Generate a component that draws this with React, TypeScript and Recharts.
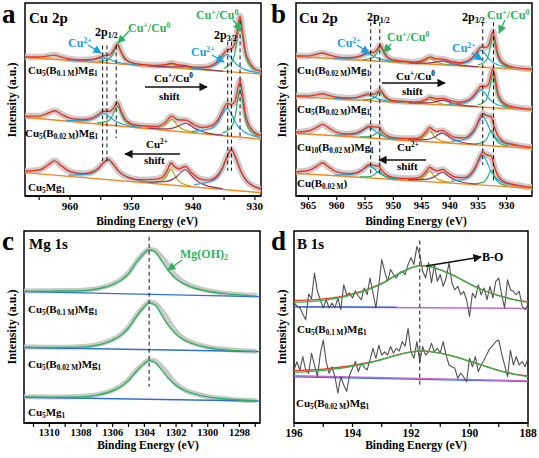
import React from "react";
import { LineChart, Line, XAxis, YAxis, ReferenceArea, ReferenceLine } from "recharts";

type Pt = [number, number]; // [binding energy (eV), intensity (a.u.)]

// ─── Panel a: Cu 2p, Cu5(B0.1M)Mg1 / Cu5(B0.02M)Mg1 / Cu5Mg1 ───
const a1Sum: Pt[] = [[967.3,72.1],[965,72.0],[963.5,72.6],[962.5,73.0],[961.5,72.1],[960,71.0],[958,70.5],[956.5,70.7],[955.5,71.5],[954.5,72.6],[953.5,73.3],[952.9,75.7],[952.3,78.8],[951.7,74.7],[951,71.0],[950,69.2],[948,68.0],[946,67.6],[944.5,68.0],[943.5,68.8],[942.5,68.0],[941.2,67.5],[940,66.7],[938.5,66.7],[937,67.7],[936,69.8],[935.2,73.2],[934.5,75.7],[933.8,76.3],[933.2,79.7],[932.8,86.9],[932.4,93.2],[932,85.3],[931.5,74.4],[931,70.2],[930.2,66.4],[929,64.6]];
const a1Base: Pt[] = [[967.3,71.9],[929,63.2]];
const a1Cu2p12: Pt[] = [[948.5,67.8],[951.5,68.8],[953,70.0],[953.75,70.9],[954.5,71.6],[955.25,71.3],[956,70.6],[957.5,70.2],[960.5,70.5]];
const a1Cu1p12: Pt[] = [[949.3,68.4],[950.8,70.1],[951.55,73.1],[951.9,76.0],[952.3,78.0],[952.7,76.2],[953.05,73.4],[953.8,70.7],[955.3,69.8]];
const a1SatA: Pt[] = [[939.5,65.7],[941.5,66.4],[942.5,67.2],[943,67.9],[943.5,68.4],[944,68.1],[944.5,67.7],[945.5,67.3],[947.5,67.5]];
const a1SatB: Pt[] = [[935.2,64.7],[938.2,65.6],[939.7,66.3],[940.45,66.8],[941.2,67.2],[941.95,67.1],[942.7,66.9],[944.2,66.9],[947.2,67.4]];
const a1Cu2p32: Pt[] = [[928.9,63.7],[931.7,65.6],[933.1,68.6],[933.8,71.4],[934.5,73.4],[935.2,71.8],[935.9,69.2],[937.3,66.8],[940.1,66.2]];
const a1Cu1p32: Pt[] = [[929.8,65.0],[931.1,69.0],[931.75,77.1],[932.08,85.1],[932.4,90.5],[932.73,85.3],[933.05,77.4],[933.7,69.6],[935,66.2]];

const a2Sum: Pt[] = [[967.3,41.4],[965,41.4],[963.5,43.0],[962.5,44.2],[961.5,42.6],[960,40.3],[958,39.6],[956.5,40.3],[955.5,42.1],[954.5,44.0],[953.5,43.9],[952.9,45.8],[952.3,48.5],[951.7,44.1],[951,39.7],[950,37.4],[948,36.3],[946,36.1],[944.5,38.2],[943.5,41.4],[942.5,39.5],[941.2,39.3],[940,37.2],[938.5,35.5],[937,36.4],[936,39.4],[935.2,44.4],[934.5,48.0],[933.8,47.4],[933.2,49.1],[932.8,55.1],[932.4,59.9],[932,52.6],[931.5,42.2],[931,37.0],[930.2,33.4],[929,31.3]];
const a2Base: Pt[] = [[967.3,40.8],[929,29.4]];
const a2Cu2p12: Pt[] = [[948.5,35.6],[951.5,37.3],[953,39.5],[953.75,41.4],[954.5,42.8],[955.25,41.9],[956,40.3],[957.5,39.1],[960.5,39.1]];
const a2Cu1p12: Pt[] = [[949.1,36.0],[950.7,37.9],[951.5,41.2],[951.9,44.4],[952.3,46.6],[952.7,44.7],[953.1,41.7],[953.9,38.8],[955.5,37.9]];
const a2SatA: Pt[] = [[939.5,32.9],[941.5,34.3],[942.5,36.4],[943,38.4],[943.5,39.7],[944,38.7],[944.5,37.0],[945.5,35.5],[947.5,35.3]];
const a2SatB: Pt[] = [[935.2,31.5],[938.2,33.1],[939.7,34.9],[940.45,36.5],[941.2,37.7],[941.95,37.0],[942.7,35.8],[944.2,34.8],[947.2,35.1]];
const a2Cu2p32: Pt[] = [[928.9,30.2],[931.7,33.1],[933.1,37.8],[933.8,42.4],[934.5,45.5],[935.2,42.8],[935.9,38.7],[937.3,34.7],[940.1,33.5]];
const a2Cu1p32: Pt[] = [[929.6,31.1],[931,35.0],[931.7,42.7],[932.05,50.3],[932.4,55.4],[932.75,50.5],[933.1,43.1],[933.8,35.8],[935.2,32.7]];

const a3Sum: Pt[] = [[967.3,12.9],[965,13.5],[963.5,16.2],[962.5,18.2],[961.5,15.9],[960,12.7],[958,11.6],[956.5,12.3],[955.5,14.1],[954.6,17.1],[953.8,19.0],[953,16.5],[952,12.5],[950.5,9.6],[948.5,8.4],[946.5,8.6],[945,9.7],[944.2,13.4],[943.6,17.1],[943,15.1],[942.3,14.1],[941.3,15.3],[940.3,12.2],[939,9.0],[937.5,8.2],[936.3,9.9],[935.3,14.4],[934.5,20.6],[933.8,24.1],[933.1,19.9],[932.3,13.1],[931.3,7.7],[930,4.8],[929,3.6]];
const a3Base: Pt[] = [[967.3,12.1],[929,1.7]];
const a3Cu2p12: Pt[] = [[947.4,7.3],[950.6,9.6],[952.2,13.1],[953,16.4],[953.8,18.7],[954.6,16.9],[955.4,14.0],[957,11.3],[960.2,10.8]];
const a3SatA: Pt[] = [[940.4,5.3],[942,6.9],[942.8,9.6],[943.2,12.1],[943.6,13.9],[944,12.3],[944.4,10.0],[945.2,7.7],[946.8,7.0]];
const a3SatB: Pt[] = [[935.3,3.9],[938.3,5.9],[939.8,8.9],[940.55,11.6],[941.3,13.6],[942.05,12.1],[942.8,9.7],[944.3,7.6],[947.3,7.2]];
const a3Cu2p32: Pt[] = [[927.8,2.6],[930.8,6.3],[932.3,13.0],[933.05,19.4],[933.8,23.8],[934.55,19.8],[935.3,13.8],[936.8,8.0],[939.8,5.9]];

// ─── Panel b: Cu 2p, Cu1 / Cu5 / Cu10 (B0.02M)Mg1 and Cu(B0.02M) ───
const b1Sum: Pt[] = [[967.2,72.6],[965,72.6],[963.5,73.5],[962.5,74.1],[961.5,73.2],[960,72.1],[958,71.6],[956.5,72.0],[955.5,73.0],[954.5,74.4],[953.5,74.4],[952.9,75.9],[952.3,78.1],[951.7,74.9],[951,71.9],[950,70.5],[948,69.8],[946,69.4],[944.5,70.6],[943.5,72.1],[942.5,71.1],[941.2,70.9],[940,69.9],[938.5,69.1],[937,69.9],[936,71.9],[935.2,74.9],[934.5,77.2],[933.8,76.9],[933.2,77.8],[932.8,81.7],[932.4,85.2],[932,80.2],[931.5,73.3],[931,70.3],[930.2,68.2],[929,66.9],[927,66.1],[925.5,65.7]];
const b1Base: Pt[] = [[967.2,72.3],[925.5,65.3]];
const b1Cu2p12: Pt[] = [[948.5,69.4],[951.5,70.4],[953,71.7],[953.75,72.8],[954.5,73.6],[955.25,73.0],[956,72.2],[957.5,71.4],[960.5,71.4]];
const b1Cu1p12: Pt[] = [[949.3,69.7],[950.8,71.0],[951.55,73.3],[951.9,75.5],[952.3,77.0],[952.7,75.6],[953.05,73.5],[953.8,71.5],[955.3,70.7]];
const b1SatA: Pt[] = [[939.5,67.8],[941.5,68.6],[942.5,69.6],[943,70.6],[943.5,71.3],[944,70.8],[944.5,70.0],[945.5,69.2],[947.5,69.2]];
const b1SatB: Pt[] = [[935.2,67.0],[938.2,67.8],[939.7,68.7],[940.45,69.5],[941.2,70.0],[941.95,69.7],[942.7,69.2],[944.2,68.8],[947.2,69.0]];
const b1Cu2p32: Pt[] = [[928.9,66.4],[931.7,68.1],[933.1,71.0],[933.8,73.7],[934.5,75.6],[935.2,74.0],[935.9,71.4],[937.3,69.0],[940.1,68.3]];
const b1Cu1p32: Pt[] = [[929.8,67.0],[931.1,69.5],[931.75,74.4],[932.08,79.3],[932.4,82.5],[932.73,79.4],[933.05,74.6],[933.7,69.9],[935,67.9]];

const b2Sum: Pt[] = [[967.2,51.8],[965,51.8],[963.5,52.5],[962.5,53.0],[961.5,52.2],[960,51.2],[958,50.8],[956.5,51.1],[955.5,52.0],[954.5,52.9],[953.5,52.7],[952.9,53.6],[952.3,55.0],[951.7,52.6],[951,50.5],[950,49.4],[948,49.0],[946,48.7],[944.5,49.7],[943.5,51.2],[942.5,50.4],[941.2,50.6],[940,49.5],[938.5,48.6],[937,49.4],[936,51.4],[935.2,54.5],[934.5,56.9],[933.8,56.7],[933.2,57.8],[932.8,62.2],[932.4,66.0],[932,60.7],[931.5,53.2],[931,49.9],[930.2,47.6],[929,46.3],[927,45.3],[925.5,45.0]];
const b2Base: Pt[] = [[967.2,51.5],[925.5,44.6]];
const b2Cu2p12: Pt[] = [[948.5,48.6],[951.5,49.5],[953,50.7],[953.75,51.7],[954.5,52.4],[955.25,51.9],[956,51.2],[957.5,50.5],[960.5,50.6]];
const b2Cu1p12: Pt[] = [[949.3,48.8],[950.8,49.8],[951.55,51.4],[951.9,52.9],[952.3,54.0],[952.7,53.1],[953.05,51.6],[953.8,50.3],[955.3,49.8]];
const b2SatA: Pt[] = [[939.5,47.1],[941.5,47.8],[942.5,48.7],[943,49.6],[943.5,50.2],[944,49.8],[944.5,49.1],[945.5,48.5],[947.5,48.4]];
const b2SatB: Pt[] = [[935.2,46.4],[938.2,47.2],[939.7,48.2],[940.45,49.1],[941.2,49.7],[941.95,49.3],[942.7,48.7],[944.2,48.2],[947.2,48.3]];
const b2Cu2p32: Pt[] = [[928.9,45.7],[931.7,47.4],[933.1,50.4],[933.8,53.2],[934.5,55.1],[935.2,53.4],[935.9,50.8],[937.3,48.4],[940.1,47.6]];
const b2Cu1p32: Pt[] = [[929.8,46.3],[931.1,49.0],[931.75,54.3],[932.08,59.7],[932.4,63.2],[932.73,59.8],[933.05,54.6],[933.7,49.4],[935,47.2]];

const b3Sum: Pt[] = [[967.2,33.1],[965,33.7],[963.5,35.6],[962.5,37.1],[961.5,35.4],[960,33.0],[958,32.1],[956.5,32.7],[955.5,34.1],[954.3,36.2],[953.4,35.8],[952.6,35.7],[951.8,32.8],[950.8,30.9],[949.5,30.1],[947.5,29.8],[946,29.8],[945,30.9],[944.2,33.4],[943.6,35.5],[943,34.3],[942.3,33.5],[941.3,34.0],[940.3,32.1],[939,30.3],[937.5,30.1],[936.3,32.1],[935.4,36.0],[934.7,40.6],[934.2,42.8],[933.6,41.8],[933.1,41.4],[932.7,41.0],[932.2,36.1],[931.5,31.0],[930.5,28.2],[929,26.8],[927,25.7],[925.5,25.2]];
const b3Base: Pt[] = [[967.2,32.5],[925.5,24.7]];
const b3Cu2p12: Pt[] = [[948.3,29.3],[951.3,30.6],[952.8,32.6],[953.55,34.4],[954.3,35.6],[955.05,34.6],[955.8,33.1],[957.3,31.8],[960.3,31.6]];
const b3Cu1p12: Pt[] = [[949.4,29.4],[951,30.2],[951.8,31.4],[952.2,32.5],[952.6,33.3],[953,32.7],[953.4,31.7],[954.2,30.8],[955.8,30.6]];
const b3SatA: Pt[] = [[940,27.8],[941.8,28.9],[942.7,30.7],[943.15,32.4],[943.6,33.6],[944.05,32.6],[944.5,31.0],[945.4,29.5],[947.2,29.1]];
const b3SatB: Pt[] = [[935.3,26.8],[938.3,28.1],[939.8,29.9],[940.55,31.5],[941.3,32.6],[942.05,31.8],[942.8,30.4],[944.3,29.2],[947.3,29.1]];
const b3Cu2p32: Pt[] = [[928.6,26.2],[931.4,28.8],[932.8,33.5],[933.5,38.2],[934.2,41.3],[934.9,38.4],[935.6,34.1],[937,29.8],[939.8,28.3]];
const b3Cu1p32: Pt[] = [[929.9,26.0],[931.3,27.3],[932,29.9],[932.35,32.3],[932.7,34.0],[933.05,32.5],[933.4,30.1],[934.1,27.9],[935.5,27.0]];

const b4Sum: Pt[] = [[967.2,12.5],[965,13.2],[963.5,15.5],[962.5,17.2],[961.5,15.2],[960,12.5],[958,11.6],[956.5,12.1],[955.5,13.5],[954.2,16.3],[953.4,15.8],[952.6,15.5],[951.8,12.4],[950.8,10.3],[949.5,9.4],[947.5,9.1],[946,9.2],[945,10.3],[944.2,12.8],[943.6,14.9],[943,13.8],[942.3,13.1],[941.3,13.7],[940.3,11.8],[939,9.7],[937.5,9.5],[936.3,11.5],[935.4,15.6],[934.7,20.4],[934.2,22.6],[933.6,21.5],[933.1,21.0],[932.7,20.7],[932.2,15.7],[931.5,10.4],[930.5,7.6],[929,6.1],[927,5.0],[925.5,4.5]];
const b4Base: Pt[] = [[967.2,11.8],[925.5,4.0]];
const b4Cu2p12: Pt[] = [[948.2,8.7],[951.2,10.1],[952.7,12.2],[953.45,14.2],[954.2,15.6],[954.95,14.5],[955.7,12.8],[957.2,11.2],[960.2,10.9]];
const b4Cu1p12: Pt[] = [[949.4,8.7],[951,9.5],[951.8,10.7],[952.2,11.8],[952.6,12.6],[953,12.0],[953.4,11.0],[954.2,10.1],[955.8,9.9]];
const b4SatA: Pt[] = [[940,7.1],[941.8,8.2],[942.7,10.0],[943.15,11.7],[943.6,12.9],[944.05,11.9],[944.5,10.3],[945.4,8.8],[947.2,8.4]];
const b4SatB: Pt[] = [[935.3,6.2],[938.3,7.5],[939.8,9.3],[940.55,11.0],[941.3,12.3],[942.05,11.3],[942.8,9.9],[944.3,8.6],[947.3,8.4]];
const b4Cu2p32: Pt[] = [[928.6,5.5],[931.4,8.2],[932.8,13.1],[933.5,17.9],[934.2,21.1],[934.9,18.1],[935.6,13.6],[937,9.2],[939.8,7.6]];
const b4Cu1p32: Pt[] = [[929.9,5.3],[931.3,6.7],[932,9.2],[932.35,11.7],[932.7,13.4],[933.05,11.8],[933.4,9.5],[934.1,7.2],[935.5,6.4]];

// ─── Panel c: Mg 1s ───
const c1Raw: Pt[] = [[1311.5,68.8],[1310,68.9],[1309,69.0],[1308,69.2],[1307,70.0],[1306,72.4],[1305.5,74.6],[1305,78.2],[1304.5,84.0],[1304,88.8],[1303.7,90.5],[1303.3,89.8],[1303,87.2],[1302.6,83.5],[1302.2,78.5],[1301.8,75.0],[1301.3,72.3],[1300.5,70.0],[1299.5,68.2],[1298.5,67.2],[1297,66.5]];
const c1Fit: Pt[] = [[1311.5,68.6],[1310,68.7],[1308,68.9],[1307,69.8],[1306,72.1],[1305.5,74.2],[1305,77.7],[1304.5,83.8],[1304,88.5],[1303.7,90.2],[1303.3,89.0],[1303,85.5],[1302.5,79.4],[1302,75.0],[1301.5,72.4],[1301,70.7],[1300,68.6],[1299,67.5],[1297,66.1]];
const c1Base: Pt[] = [[1311.6,68.4],[1296.7,65.8]];
const c2Raw: Pt[] = [[1311.5,39.6],[1310,39.5],[1309,39.5],[1308,39.8],[1307,40.8],[1306,43.5],[1305.5,46.0],[1305,50.0],[1304.5,56.0],[1304,61.0],[1303.7,63.0],[1303.3,62.2],[1303,59.5],[1302.6,55.2],[1302.2,49.8],[1301.8,46.0],[1301.3,43.0],[1300.5,40.6],[1299.5,38.9],[1298.5,38.0],[1297,37.4]];
const c2Fit: Pt[] = [[1311.5,39.4],[1310,39.3],[1308,39.5],[1307,40.5],[1306,43.2],[1305.5,45.6],[1305,49.5],[1304.5,55.5],[1304,60.6],[1303.7,62.6],[1303.3,61.3],[1303,57.5],[1302.5,51.0],[1302,46.2],[1301.5,43.3],[1301,41.5],[1300,39.3],[1299,38.2],[1297,37.2]];
const c2Base: Pt[] = [[1311.6,39.3],[1296.7,37.2]];
const c3Raw: Pt[] = [[1311.5,13.7],[1310,13.6],[1309,13.6],[1308,13.9],[1307,14.8],[1306,17.1],[1305.5,19.3],[1305,22.7],[1304.5,27.5],[1304,31.3],[1303.7,32.8],[1303.3,32.2],[1303,30.0],[1302.6,26.5],[1302.2,22.0],[1301.8,19.0],[1301.3,16.6],[1300.5,14.6],[1299.5,13.1],[1298.5,12.3],[1297,11.7]];
const c3Fit: Pt[] = [[1311.5,13.5],[1310,13.4],[1308,13.6],[1307,14.5],[1306,16.8],[1305.5,18.9],[1305,22.2],[1304.5,27.0],[1304,31.0],[1303.7,32.5],[1303.3,31.4],[1303,28.6],[1302.5,23.4],[1302,19.6],[1301.5,17.1],[1301,15.6],[1300,13.6],[1299,12.6],[1297,11.6]];
const c3Base: Pt[] = [[1311.6,13.4],[1296.7,11.4]];

// ─── Panel d: B 1s ───
const dEnergy = [196.0,195.9,195.8,195.7,195.6,195.5,195.4,195.3,195.2,195.1,195.0,194.9,194.8,194.7,194.6,194.5,194.4,194.3,194.2,194.1,194.0,193.9,193.8,193.7,193.6,193.5,193.4,193.3,193.2,193.1,193.0,192.9,192.8,192.7,192.6,192.5,192.4,192.3,192.2,192.1,192.0,191.9,191.8,191.7,191.6,191.5,191.4,191.3,191.2,191.1,191.0,190.9,190.8,190.7,190.6,190.5,190.4,190.3,190.2,190.1,190.0,189.9,189.8,189.7,189.6,189.5,189.4,189.3,189.2,189.1,189.0,188.9,188.8,188.7,188.6,188.5,188.4,188.3,188.2,188.1,188.0];
const d1Raw = [62.5,61.0,60.0,56.8,53.8,67.2,64.8,78.1,68.6,64.2,59.9,64.2,59.9,62.5,60.0,65.1,59.0,72.0,66.8,67.7,65.1,68.9,66.0,64.2,70.3,66.8,75.5,67.7,59.9,72.0,85.1,79.0,73.8,79.9,77.3,75.5,78.1,79.0,77.3,82.6,86.1,82.6,92.0,87.6,79.0,75.5,83.4,72.9,82.6,73.8,77.3,71.2,75.5,83.4,72.9,69.4,71.2,66.8,68.6,64.2,55.5,67.7,65.1,72.0,66.8,70.3,64.2,71.2,65.1,73.8,75.5,66.8,59.9,74.6,69.4,68.6,66.8,68.6,60.8,59.0,61.6];
const d2Raw = [27.6,31.9,27.6,34.6,27.6,25.9,36.3,30.2,24.1,36.0,43.2,32.0,25.9,29.3,24.0,15.6,24.1,19.8,16.5,25.0,28.5,32.0,26.7,31.1,29.0,27.6,33.0,38.9,33.7,40.6,35.4,37.1,35.4,39.8,36.3,38.9,37.5,42.4,40.0,49.3,37.1,33.7,42.4,32.0,39.8,35.4,37.1,41.5,37.1,38.9,36.5,42.4,35.4,30.2,29.3,28.5,23.3,25.9,24.0,21.5,33.7,29.3,34.6,26.7,30.2,32.8,36.0,38.9,40.5,42.4,43.2,36.0,30.2,24.1,37.9,30.2,34.6,30.2,32.0,29.3,33.7];
const d1Env: Pt[] = [[196,63.8],[195.5,64.1],[195,64.7],[194.5,65.6],[194,67.2],[193.5,69.6],[193,72.7],[192.5,77.1],[192,80.8],[191.7,82.0],[191.4,81.6],[191,79.8],[190.5,76.5],[190,72.5],[189.5,69.0],[189,66.3],[188.5,64.4],[188,63.1]];
const d1Fit: Pt[] = [[196,62.8],[195.5,63.2],[195,63.9],[194.5,65.0],[194,66.8],[193.5,69.3],[193,72.5],[192.5,77.0],[192,80.8],[191.7,82.0],[191.4,81.6],[191,79.8],[190.5,76.5],[190,72.5],[189.5,69.0],[189,66.3],[188.5,64.3],[188,62.9]];
const d1BaseA: Pt[] = [[196,60.6],[192.5,60.3]];
const d1BaseB: Pt[] = [[196,60.4],[188,59.7]];
const d2Env: Pt[] = [[196,27.3],[195.5,27.6],[195,28.1],[194.5,28.9],[194,30.0],[193.5,31.4],[193,33.2],[192.5,35.3],[192,37.0],[191.7,37.5],[191.4,37.3],[191,36.4],[190.5,34.6],[190,32.2],[189.5,29.8],[189,27.4],[188.5,25.6],[188,24.5]];
const d2Fit: Pt[] = [[196,26.4],[195.5,26.8],[195,27.4],[194.5,28.3],[194,29.5],[193.5,31.0],[193,33.0],[192.5,35.2],[192,37.0],[191.7,37.5],[191.4,37.3],[191,36.4],[190.5,34.6],[190,32.2],[189.5,29.8],[189,27.3],[188.5,25.4],[188,24.2]];
const d2BaseA: Pt[] = [[196,24.1],[188,21.6]];
const d2BaseB: Pt[] = [[196,24.6],[188,22.0]];

// tick lists
const aTicks = [965, 960, 955, 950, 945, 940, 935, 930];
const bTicks = [965, 960, 955, 950, 945, 940, 935, 930];
const cTicks = [1311, 1310, 1309, 1308, 1307, 1306, 1305, 1304, 1303, 1302, 1301, 1300, 1299, 1298, 1297];
const dTicks = [196, 195, 194, 193, 192, 191, 190, 189, 188];

const FONT = '"Liberation Serif", "DejaVu Serif", "Times New Roman", serif';
const RED = "#f2311f";
const ORANGE = "#f5861f";
const BLUE = "#1ea3e0";
const GREEN = "#22b26b";
const OLIVE = "#a8a520";
const MAROON = "#8e3b62";
const HALO = "#c3c3c3";
const TXT_BLUE = "#1a9fdc";
const TXT_GREEN = "#2fb063";

const rows = (pts: Pt[]) => [...pts].sort((p, q) => q[0] - p[0]).map(([e, v]) => ({ e, v }));

const ln = (key: string, pts: Pt[], color: string, width = 1.2, curve: "monotone" | "linear" = "monotone", opacity = 1) => (
  <Line
    key={key}
    data={rows(pts)}
    dataKey="v"
    type={curve}
    stroke={color}
    strokeWidth={width}
    strokeOpacity={opacity}
    strokeLinecap="round"
    strokeLinejoin="round"
    dot={false}
    activeDot={false}
    isAnimationActive={false}
  />
);

const cuSpectrum = (id: string, sum: Pt[], base: Pt[], parts: [Pt[], string][]) => [
  ln(id + "halo", sum, HALO, 6.5, "monotone", 0.85),
  ln(id + "base", base, ORANGE, 1.4, "linear"),
  ...parts.map(([p, c], i) => ln(id + "p" + i, p, c, 1.2)),
  ln(id + "sum", sum, RED, 1.4),
];

const dash = (key: string, x: number, y1: number, y2: number) => (
  <ReferenceLine key={key} segment={[{ x, y: y1 }, { x, y: y2 }]} stroke="#111" strokeWidth={1} strokeDasharray="4 3" />
);

interface PanelProps {
  left: number;
  top: number;
  width: number;
  height: number;
  margin: { top: number; right: number; bottom: number; left: number };
  domain: [number, number];
  ticks: number[];
  fmt: (v: number) => string;
  fontSize: number;
  children: React.ReactNode;
}

function Panel({ left, top, width, height, margin, domain, ticks, fmt, fontSize, children }: PanelProps) {
  return (
    <div style={{ position: "absolute", left, top }}>
      <LineChart width={width} height={height} margin={margin}>
        <XAxis
          type="number"
          dataKey="e"
          domain={domain}
          reversed
          allowDataOverflow
          ticks={ticks}
          interval={0}
          tickFormatter={fmt}
          tickSize={4}
          height={30}
          axisLine={{ stroke: "#000", strokeWidth: 1.5 }}
          tickLine={{ stroke: "#000", strokeWidth: 1.2 }}
          tick={{ fill: "#000", fontSize, fontWeight: 700, fontFamily: FONT }}
        />
        <YAxis hide type="number" domain={[0, 100]} allowDataOverflow />
        {children}
        <ReferenceArea x1={domain[0]} x2={domain[1]} y1={0} y2={100} fill="none" stroke="#000" strokeWidth={1.5} ifOverflow="visible" />
      </LineChart>
    </div>
  );
}

const Sub = ({ c }: { c: string }) => <span style={{ fontSize: "0.66em", position: "relative", top: "0.32em" }}>{c}</span>;
const Sup = ({ c }: { c: string }) => <span style={{ fontSize: "0.66em", position: "relative", top: "-0.5em" }}>{c}</span>;

function T({ x, base, size = 11, color = "#000", children }: { x: number; base: number; size?: number; color?: string; children: React.ReactNode }) {
  return (
    <div
      style={{
        position: "absolute",
        left: x,
        top: base - size * 0.84,
        fontSize: size,
        lineHeight: 1,
        fontFamily: FONT,
        fontWeight: 700,
        color,
        whiteSpace: "nowrap",
      }}
    >
      {children}
    </div>
  );
}

const CuOx = () => (<>Cu<Sup c="+" />/Cu<Sup c="0" /></>);
const Cu2 = () => (<>Cu<Sup c="2+" /></>);
const Sample = ({ cu, b }: { cu: string; b?: string }) => (
  <>Cu<Sub c={cu} />{b ? <>(B<Sub c={b} />)</> : null}Mg<Sub c="1" /></>
);

function YTitle({ cx, cy }: { cx: number; cy: number }) {
  return (
    <div style={{ position: "absolute", left: cx, top: cy, transform: "translate(-50%, -50%) rotate(-90deg)", fontFamily: FONT, fontWeight: 700, fontSize: 12, whiteSpace: "nowrap", lineHeight: 1 }}>
      Intensity (a.u.)
    </div>
  );
}

function XTitle({ cx, base }: { cx: number; base: number }) {
  return (
    <div style={{ position: "absolute", left: cx, top: base - 11.5 * 0.84, transform: "translateX(-50%)", fontFamily: FONT, fontWeight: 700, fontSize: 11.5, whiteSpace: "nowrap", lineHeight: 1 }}>
      Binding Energy (eV)
    </div>
  );
}

// arrows drawn over the panels: [x1, y1, x2, y2, colour]
const ARROWS: [number, number, number, number, string][] = [
  [145, 87, 207, 87, "#111"],
  [180, 154, 125, 154, "#111"],
  [88, 45, 101, 53, TXT_BLUE],
  [129, 31, 118, 43, TXT_GREEN],
  [233, 20, 241, 30, TXT_GREEN],
  [212, 55, 224, 62, TXT_BLUE],
  [382, 83, 445, 83, "#111"],
  [426, 160, 379, 160, "#111"],
  [357, 45, 369, 53, TXT_BLUE],
  [391, 44, 384, 52, TXT_GREEN],
  [505, 20, 499, 33, TXT_GREEN],
  [472, 53, 482, 60, TXT_BLUE],
  [182, 260, 168, 270, TXT_GREEN],
  [426, 266, 481, 257, "#111"],
];

export default function App() {
  const tens = (v: number) => (v % 10 === 0 ? String(v) : "");
  const evens = (v: number) => (v % 2 === 0 ? String(v) : "");
  return (
    <div style={{ position: "fixed", left: 0, top: 0, width: 539, height: 458, background: "#fff", overflow: "hidden" }}>
      <Panel left={0} top={0} width={270} height={228} margin={{ top: 3, right: 9, left: 25, bottom: 2 }} domain={[929, 967.3]} ticks={aTicks} fmt={tens} fontSize={11}>
        {cuSpectrum("a1", a1Sum, a1Base, [[a1SatA, OLIVE], [a1SatB, MAROON], [a1Cu2p12, BLUE], [a1Cu2p32, BLUE], [a1Cu1p12, GREEN], [a1Cu1p32, GREEN]])}
        {cuSpectrum("a2", a2Sum, a2Base, [[a2SatA, OLIVE], [a2SatB, MAROON], [a2Cu2p12, BLUE], [a2Cu2p32, BLUE], [a2Cu1p12, GREEN], [a2Cu1p32, GREEN]])}
        {cuSpectrum("a3", a3Sum, a3Base, [[a3SatA, OLIVE], [a3SatB, MAROON], [a3Cu2p12, BLUE], [a3Cu2p32, BLUE]])}
        {dash("ad1", 954.7, 78, 18)}
        {dash("ad2", 954.0, 78, 18)}
        {dash("ad3", 952.5, 78, 30)}
        {dash("ad4", 934.4, 80, 13)}
        {dash("ad5", 933.8, 80, 13)}
        {dash("ad6", 932.4, 91, 29)}
      </Panel>
      <Panel left={269} top={0} width={270} height={228} margin={{ top: 3, right: 7, left: 27, bottom: 2 }} domain={[925.5, 967.2]} ticks={bTicks} fmt={(v) => String(v)} fontSize={10.5}>
        {cuSpectrum("b1", b1Sum, b1Base, [[b1SatA, OLIVE], [b1SatB, MAROON], [b1Cu2p12, BLUE], [b1Cu2p32, BLUE], [b1Cu1p12, GREEN], [b1Cu1p32, GREEN]])}
        {cuSpectrum("b2", b2Sum, b2Base, [[b2SatA, OLIVE], [b2SatB, MAROON], [b2Cu2p12, BLUE], [b2Cu2p32, BLUE], [b2Cu1p12, GREEN], [b2Cu1p32, GREEN]])}
        {cuSpectrum("b3", b3Sum, b3Base, [[b3SatA, OLIVE], [b3SatB, MAROON], [b3Cu2p12, BLUE], [b3Cu2p32, BLUE], [b3Cu1p12, GREEN], [b3Cu1p32, GREEN]])}
        {cuSpectrum("b4", b4Sum, b4Base, [[b4SatA, OLIVE], [b4SatB, MAROON], [b4Cu2p12, BLUE], [b4Cu2p32, BLUE], [b4Cu1p12, GREEN], [b4Cu1p32, GREEN]])}
        {dash("bd1", 954.0, 90, 10)}
        {dash("bd2", 952.4, 90, 12)}
        {dash("bd3", 934.2, 90, 16)}
        {dash("bd4", 932.3, 90, 8)}
      </Panel>
      <Panel left={0} top={228} width={270} height={230} margin={{ top: 3, right: 10, left: 24, bottom: 5 }} domain={[1296.7, 1311.6]} ticks={cTicks} fmt={evens} fontSize={10.5}>
        {[
          ln("c1raw", c1Raw, HALO, 5, "monotone", 0.9),
          ln("c1base", c1Base, "#2f6fd6", 1.4, "linear"),
          ln("c1fit", c1Fit, "#2db35a", 1.4),
          ln("c2raw", c2Raw, HALO, 5, "monotone", 0.9),
          ln("c2base", c2Base, "#2f6fd6", 1.4, "linear"),
          ln("c2fit", c2Fit, "#2db35a", 1.4),
          ln("c3raw", c3Raw, HALO, 5, "monotone", 0.9),
          ln("c3base", c3Base, "#2f6fd6", 1.4, "linear"),
          ln("c3fit", c3Fit, "#2db35a", 1.4),
        ]}
        {dash("cd", 1303.7, 97, 19)}
      </Panel>
      <Panel left={269} top={228} width={270} height={230} margin={{ top: 3, right: 11, left: 25, bottom: 5 }} domain={[188, 196]} ticks={dTicks} fmt={evens} fontSize={11.5}>
        {[
          ln("d1bb", d1BaseB, "#c468cf", 1.4, "linear"),
          ln("d1ba", d1BaseA, "#3a6ee0", 1.4, "linear"),
          ln("d1raw", dEnergy.map((e, i) => [e, d1Raw[i]] as Pt), "#505050", 1.1, "linear"),
          ln("d1env", d1Env, "#f03a2a", 1.3),
          ln("d1fit", d1Fit, "#2cb34f", 1.3),
          ln("d2ba", d2BaseA, "#3a6ee0", 1.4, "linear"),
          ln("d2bb", d2BaseB, "#c468cf", 1.4, "linear"),
          ln("d2raw", dEnergy.map((e, i) => [e, d2Raw[i]] as Pt), "#505050", 1.1, "linear"),
          ln("d2env", d2Env, "#f03a2a", 1.3),
          ln("d2fit", d2Fit, "#2cb34f", 1.3),
        ]}
        {dash("dd", 191.7, 95, 19)}
      </Panel>

      {/* panel a texts */}
      <T x={2} base={24} size={27}>a</T>
      <T x={29} base={24} size={15}>Cu 2p</T>
      <T x={95} base={36} size={12}>2p<Sub c="1/2" /></T>
      <T x={128} base={32} size={12} color={TXT_GREEN}><CuOx /></T>
      <T x={68} base={47} size={12} color={TXT_BLUE}><Cu2 /></T>
      <T x={196} base={19} size={12} color={TXT_GREEN}><CuOx /></T>
      <T x={214} base={39} size={12}>2p<Sub c="3/2" /></T>
      <T x={191} base={56} size={12} color={TXT_BLUE}><Cu2 /></T>
      <T x={28} base={74}><Sample cu="5" b="0.1 M" /></T>
      <T x={154} base={82}><CuOx /></T>
      <T x={159} base={100}>shift</T>
      <T x={25} base={137}><Sample cu="5" b="0.02 M" /></T>
      <T x={146} base={148}><Cu2 /></T>
      <T x={144} base={164}>shift</T>
      <T x={28} base={191}><Sample cu="5" /></T>
      <YTitle cx={12} cy={100} />
      <XTitle cx={147} base={226} />

      {/* panel b texts */}
      <T x={271} base={24} size={27}>b</T>
      <T x={299} base={24} size={15}>Cu 2p</T>
      <T x={367} base={21} size={12}>2p<Sub c="1/2" /></T>
      <T x={462} base={21} size={12}>2p<Sub c="3/2" /></T>
      <T x={487} base={19} size={12} color={TXT_GREEN}><CuOx /></T>
      <T x={387} base={41} size={12} color={TXT_GREEN}><CuOx /></T>
      <T x={337} base={47} size={12} color={TXT_BLUE}><Cu2 /></T>
      <T x={452} base={52} size={12} color={TXT_BLUE}><Cu2 /></T>
      <T x={297} base={74}><Sample cu="1" b="0.02 M" /></T>
      <T x={297} base={113}><Sample cu="5" b="0.02 M" /></T>
      <T x={297} base={151}><Sample cu="10" b="0.02 M" /></T>
      <T x={297} base={187}>Cu(B<Sub c="0.02 M" />)</T>
      <T x={396} base={80}><CuOx /></T>
      <T x={402} base={95}>shift</T>
      <T x={397} base={151}><Cu2 /></T>
      <T x={397} base={170}>shift</T>
      <YTitle cx={282} cy={100} />
      <XTitle cx={416} base={226} />

      {/* panel c texts */}
      <T x={2} base={251} size={27}>c</T>
      <T x={29} base={250} size={15}>Mg 1s</T>
      <T x={180} base={258} size={12} color={TXT_GREEN}>Mg(OH)<Sub c="2" /></T>
      <T x={28} base={313}><Sample cu="5" b="0.1 M" /></T>
      <T x={28} base={368}><Sample cu="5" b="0.02 M" /></T>
      <T x={28} base={416}><Sample cu="5" /></T>
      <YTitle cx={12} cy={327} />
      <XTitle cx={148} base={450} />

      {/* panel d texts */}
      <T x={271} base={251} size={27}>d</T>
      <T x={297} base={250} size={15}>B 1s</T>
      <T x={482} base={261} size={12}>B-O</T>
      <T x={297} base={333}><Sample cu="5" b="0.1 M" /></T>
      <T x={296} base={407}><Sample cu="5" b="0.02 M" /></T>
      <YTitle cx={282} cy={327} />
      <XTitle cx={416} base={450} />

      <svg width={539} height={458} style={{ position: "absolute", left: 0, top: 0, pointerEvents: "none" }}>
        <defs>
          {ARROWS.map(([, , , , c], i) => (
            <marker key={i} id={"ah" + i} viewBox="0 0 10 10" refX="9" refY="5" markerWidth="6" markerHeight="6" orient="auto">
              <path d="M0,0 L10,5 L0,10 z" fill={c} />
            </marker>
          ))}
        </defs>
        {ARROWS.map(([x1, y1, x2, y2, c], i) => (
          <line key={i} x1={x1} y1={y1} x2={x2} y2={y2} stroke={c} strokeWidth={1.4} markerEnd={`url(#ah${i})`} />
        ))}
      </svg>
    </div>
  );
}
